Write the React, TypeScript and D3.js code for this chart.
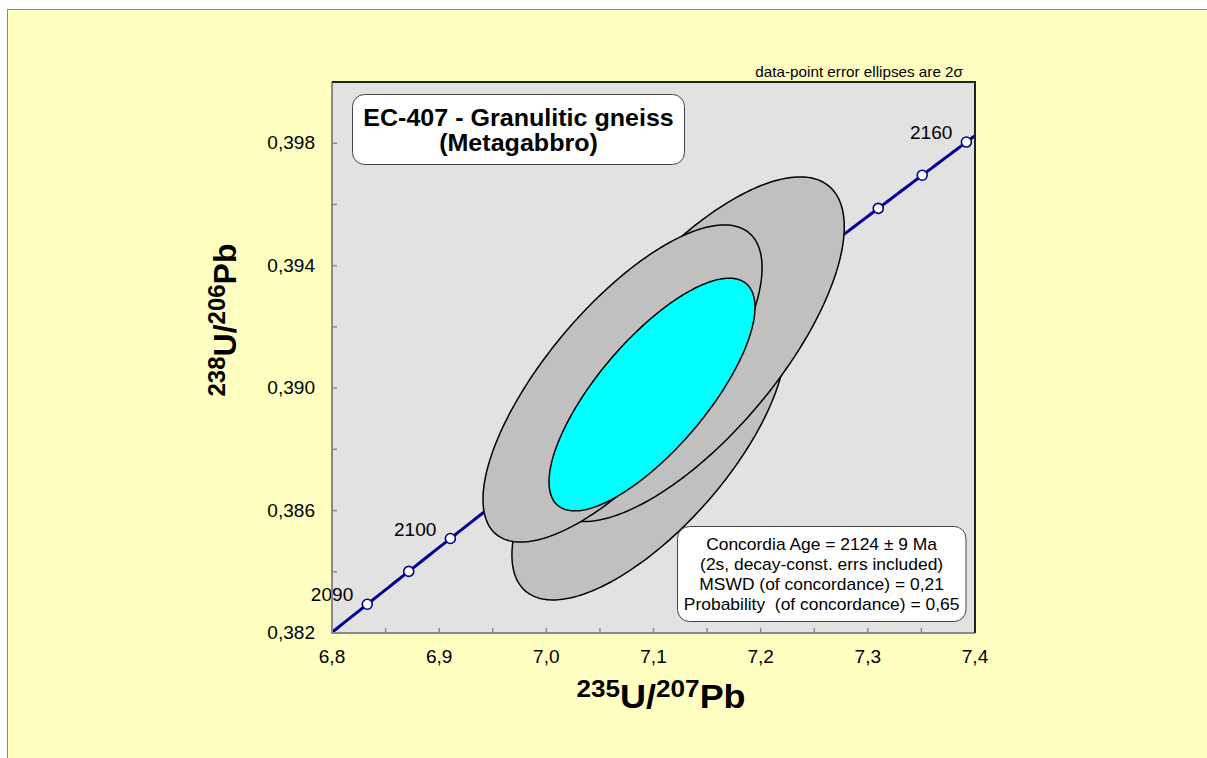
import * as d3 from 'd3'

// Wetherill concordia, U decay constants (1/yr)
const L238 = 1.55125e-10
const L235 = 9.8485e-10

// ages (Ma) of the concordia markers and which ones carry a label
const markerAges = [2090, 2095, 2100, 2105, 2110, 2115, 2120, 2125, 2130, 2135, 2140, 2145, 2150, 2155, 2160]
const labelAges = [2090, 2100, 2160]
const curveSpan = [2080, 2170]

// data-point error ellipses (2s half-widths + error correlation), in drawing order
const ptX = [7.0955, 7.1359, 7.0711]
const ptXErr = [0.1276, 0.1421, 0.1302]
const ptY = [0.38798, 0.39127, 0.39015]
const ptYErr = [0.0049, 0.00563, 0.00518]
const ptRho = [0.7, 0.71, 0.73]

// concordia age ellipse
const ageX = 7.0986, ageXErr = 0.0961
const ageY = 0.38979, ageYErr = 0.0038
const ageRho = 0.75

const xDomain = [6.8, 7.4]
const yDomain = [0.382, 0.4]
const xLabelTicks = [6.8, 6.9, 7.0, 7.1, 7.2, 7.3, 7.4]
const yLabelTicks = [0.382, 0.386, 0.39, 0.394, 0.398]

const titleLines = ['EC-407 - Granulitic gneiss', '(Metagabbro)']
const statLines = [
  'Concordia Age = 2124 ± 9 Ma',
  '(2s, decay-const. errs included)',
  'MSWD (of concordance) = 0,21',
  'Probability  (of concordance) = 0,65',
]
const note = 'data-point error ellipses are 2σ'

const W = 1207, H = 758
const P = { left: 332, right: 975, top: 82, bottom: 633 }
const SX = 1.09 // the original picture is slightly stretched sideways
const FONT = "'Liberation Sans', Arial, sans-serif"

const comma = d3.formatLocale({ decimal: ',', thousands: '.', grouping: [3], currency: ['', ''] })
const fx = comma.format('.1f')
const fy = comma.format('.3f')

const x = d3.scaleLinear().domain(xDomain).range([P.left, P.right])
const y = d3.scaleLinear().domain(yDomain).range([P.bottom, P.top])

const concordia = (t: number): [number, number] =>
  [Math.exp(L235 * t * 1e6) - 1, Math.exp(L238 * t * 1e6) - 1]

function ellipse(cx: number, sx: number, cy: number, sy: number, rho: number) {
  const k = Math.sqrt(1 - rho * rho)
  return d3.range(240).map((i) => {
    const a = (2 * Math.PI * i) / 240
    return [cx + sx * Math.cos(a), cy + sy * (rho * Math.cos(a) + k * Math.sin(a))] as [number, number]
  })
}

const line = d3.line<[number, number]>().x((d) => x(d[0])).y((d) => y(d[1]))
const closed = d3.line<[number, number]>().x((d) => x(d[0])).y((d) => y(d[1])).curve(d3.curveLinearClosed)

// stretched text helper
function T({ x: tx, y: ty, anchor = 'start', size, bold = false, children }: any) {
  return (
    <text transform={`translate(${tx},${ty}) scale(${SX},1)`} textAnchor={anchor}
      fontSize={size} fontWeight={bold ? 'bold' : 'normal'} fontFamily={FONT}
      fill="#000" style={{ whiteSpace: 'pre' }}>
      {children}
    </text>
  )
}

export default function App() {
  const curve = d3.range(curveSpan[0], curveSpan[1] + 0.01, 0.5).map(concordia)
  const markers = markerAges.map((t) => ({ t, p: concordia(t) }))
  const xMinor = x.ticks(12)
  const yMinor = y.ticks(9)
  const boxCx = 518.5
  const statCx = 821.6

  return (
    <svg width={W} height={H} style={{ position: 'absolute', left: 0, top: 0 }}>
      <defs>
        <clipPath id="plot">
          <rect x={P.left} y={P.top} width={P.right - P.left} height={P.bottom - P.top} />
        </clipPath>
      </defs>
      <rect x={0} y={0} width={W} height={H} fill="#fff" />
      <rect x={7.5} y={9.5} width={1210} height={770} fill="#ffffc2" stroke="#8a8a8a" />

      {/* plot area */}
      <rect x={P.left} y={P.top} width={P.right - P.left} height={P.bottom - P.top} fill="#e2e2e2" />

      {/* ticks, inside */}
      {xMinor.map((v) => (
        <line key={'xt' + v} x1={x(v)} x2={x(v)} y1={P.bottom} y2={P.bottom - 5} stroke="#8a8a8a" strokeWidth={1.5} />
      ))}
      {yMinor.map((v) => (
        <line key={'yt' + v} x1={P.left} x2={P.left + 5} y1={y(v)} y2={y(v)} stroke="#8a8a8a" strokeWidth={1.5} />
      ))}

      {/* concordia + markers */}
      <g clipPath="url(#plot)">
        <path d={line(curve) ?? ''} fill="none" stroke="#000099" strokeWidth={3} />
        {markers.map(({ t, p }) => (
          <circle key={t} cx={x(p[0])} cy={y(p[1])} r={5} fill="#fff" stroke="#000099" strokeWidth={1.6} />
        ))}
      </g>
      {markers.filter((m) => labelAges.includes(m.t)).map(({ t, p }) => (
        <T key={'l' + t} x={x(p[0]) - 14} y={y(p[1]) - 3} anchor="end" size={17.5}>{t}</T>
      ))}

      {/* error ellipses */}
      {ptX.map((cx, i) => (
        <path key={'e' + i} d={closed(ellipse(cx, ptXErr[i], ptY[i], ptYErr[i], ptRho[i])) ?? ''}
          fill="#c0c0c0" stroke="#000" strokeWidth={1.5} />
      ))}
      <path d={closed(ellipse(ageX, ageXErr, ageY, ageYErr, ageRho)) ?? ''} fill="#00ffff" stroke="#000" strokeWidth={1.5} />

      {/* frame */}
      <line x1={P.left} x2={P.left} y1={P.top} y2={P.bottom + 0.75} stroke="#8a8a8a" strokeWidth={2} />
      <line x1={P.left} x2={P.right} y1={P.bottom} y2={P.bottom} stroke="#8a8a8a" strokeWidth={2} />
      <line x1={P.left} x2={P.right + 1} y1={P.top} y2={P.top} stroke="#222" strokeWidth={2} />
      <line x1={P.right} x2={P.right} y1={P.top} y2={P.bottom} stroke="#222" strokeWidth={2} />

      {/* tick labels */}
      {xLabelTicks.map((v) => (
        <T key={'xl' + v} x={x(v)} y={663} anchor="middle" size={17.5}>{fx(v)}</T>
      ))}
      {yLabelTicks.map((v) => (
        <T key={'yl' + v} x={315} y={y(v) + 6} anchor="end" size={17.5}>{fy(v)}</T>
      ))}

      {/* axis titles */}
      <text transform={`translate(661,708) scale(${SX},1)`} textAnchor="middle" fontFamily={FONT} fontWeight="bold">
        <tspan fontSize={24} dy={-11}>235</tspan>
        <tspan fontSize={33} dy={11}>U/</tspan>
        <tspan fontSize={24} dy={-11}>207</tspan>
        <tspan fontSize={33} dy={11}>Pb</tspan>
      </text>
      <text transform="translate(236,320) rotate(-90)" textAnchor="middle" fontFamily={FONT} fontWeight="bold">
        <tspan fontSize={24} dy={-11}>238</tspan>
        <tspan fontSize={32} dy={11}>U/</tspan>
        <tspan fontSize={24} dy={-11}>206</tspan>
        <tspan fontSize={32} dy={11}>Pb</tspan>
      </text>

      {/* sample box */}
      <rect x={352.5} y={94.5} width={332} height={70} rx={12} fill="#fff" stroke="#444" strokeWidth={1} />
      <T x={boxCx} y={126} anchor="middle" size={23} bold>{titleLines[0]}</T>
      <T x={boxCx} y={150.5} anchor="middle" size={23} bold>{titleLines[1]}</T>

      {/* result box */}
      <rect x={677.5} y={526.5} width={288.5} height={95} rx={12} fill="#fff" stroke="#444" strokeWidth={1} />
      {statLines.map((s, i) => (
        <T key={'s' + i} x={statCx} y={549.5 + i * 20} anchor="middle" size={16}>{s}</T>
      ))}

      <T x={963} y={77} anchor="end" size={14}>{note}</T>
    </svg>
  )
}
